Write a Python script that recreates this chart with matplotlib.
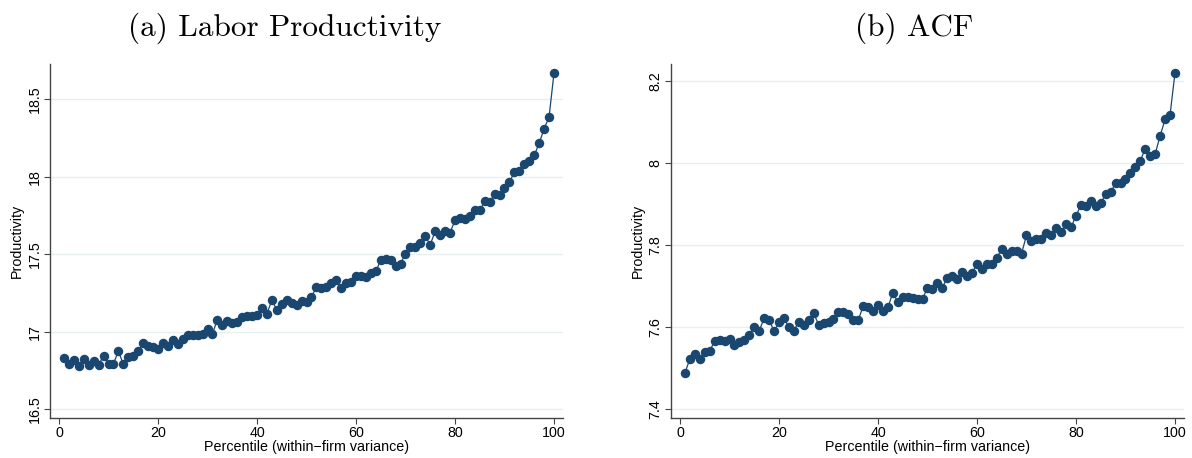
import matplotlib
matplotlib.use("Agg")
import matplotlib.pyplot as plt
import numpy as np

# percentiles of within-firm variance
pct = np.arange(1, 101)

# (a) labor productivity
labor = [16.828, 16.794, 16.815, 16.779, 16.824, 16.785, 16.810, 16.785, 16.845, 16.794,
         16.794, 16.873, 16.789, 16.838, 16.845, 16.877, 16.927, 16.910, 16.900, 16.890,
         16.927, 16.910, 16.944, 16.918, 16.955, 16.979, 16.981, 16.979, 16.985, 17.017,
         16.987, 17.077, 17.045, 17.071, 17.054, 17.060, 17.097, 17.100, 17.103, 17.105,
         17.153, 17.116, 17.202, 17.142, 17.181, 17.202, 17.185, 17.174, 17.200, 17.194,
         17.224, 17.288, 17.285, 17.287, 17.314, 17.335, 17.280, 17.316, 17.320, 17.361,
         17.357, 17.350, 17.379, 17.390, 17.460, 17.471, 17.460, 17.421, 17.440, 17.503,
         17.546, 17.544, 17.570, 17.615, 17.561, 17.650, 17.622, 17.650, 17.640, 17.718,
         17.735, 17.730, 17.748, 17.783, 17.783, 17.843, 17.835, 17.890, 17.885, 17.931,
         17.966, 18.030, 18.038, 18.080, 18.105, 18.138, 18.217, 18.310, 18.385, 18.671]

# (b) ACF productivity
acf = [7.488, 7.522, 7.534, 7.521, 7.539, 7.541, 7.566, 7.567, 7.566, 7.570,
       7.557, 7.564, 7.569, 7.580, 7.600, 7.591, 7.621, 7.617, 7.590, 7.611,
       7.622, 7.599, 7.591, 7.613, 7.605, 7.617, 7.634, 7.605, 7.609, 7.613,
       7.620, 7.636, 7.636, 7.631, 7.616, 7.616, 7.651, 7.648, 7.639, 7.654,
       7.639, 7.648, 7.683, 7.661, 7.672, 7.674, 7.670, 7.669, 7.668, 7.696,
       7.692, 7.707, 7.696, 7.720, 7.723, 7.717, 7.735, 7.725, 7.731, 7.754,
       7.742, 7.754, 7.753, 7.769, 7.790, 7.777, 7.785, 7.785, 7.779, 7.823,
       7.809, 7.814, 7.814, 7.829, 7.824, 7.842, 7.832, 7.850, 7.843, 7.871,
       7.897, 7.895, 7.908, 7.896, 7.901, 7.924, 7.928, 7.951, 7.952, 7.961,
       7.975, 7.991, 8.005, 8.035, 8.017, 8.022, 8.066, 8.106, 8.117, 8.219]

xticks = [0, 20, 40, 60, 80, 100]
yticks_a = [16.5, 17, 17.5, 18, 18.5]
yticks_b = [7.4, 7.6, 7.8, 8, 8.2]
ylabels_a = ["16.5", "17", "17.5", "18", "18.5"]
ylabels_b = ["7.4", "7.6", "7.8", "8", "8.2"]

navy = "#1a476f"
sans = "Liberation Sans"
fs = 10.3

fig = plt.figure(figsize=(11.92, 4.58), dpi=100)
W, H = 1192, 458

def make_ax(x0, y, yt, ylab, ylim):
    ax = fig.add_axes([x0 / W, 40 / H, 513 / W, 354 / H])
    ax.plot(pct, y, "-o", color=navy, lw=0.9, ms=5.8, mec=navy, zorder=3)
    ax.set_xlim(-1.82, 101.82)
    ax.set_ylim(*ylim)
    ax.set_xticks(xticks)
    ax.set_xticklabels([str(t) for t in xticks], fontsize=fs, family=sans)
    ax.set_yticks(yt)
    ax.set_yticklabels(ylab, fontsize=fs, family=sans, rotation=90, va="center")
    ax.yaxis.grid(True, color="#e8eff0", lw=1.0)
    ax.set_axisbelow(True)
    for s in ["top", "right"]:
        ax.spines[s].set_visible(False)
    for s in ["left", "bottom"]:
        ax.spines[s].set_color("#444444")
        ax.spines[s].set_linewidth(1.0)
    ax.tick_params(length=4, width=0.8, color="#444444", pad=2)
    ax.set_xlabel("Percentile (within\u2212firm variance)", fontsize=fs, family=sans, labelpad=0)
    ax.set_ylabel("Productivity", fontsize=fs, family=sans, labelpad=3)
    return ax

ax1 = make_ax(50, labor, yticks_a, ylabels_a, (16.442, 18.729))
ax2 = make_ax(671, acf, yticks_b, ylabels_b, (7.378, 8.241))

fig.text(285 / W, 1 - 28 / H, "(a) Labor Productivity", fontsize=22.5, family="cmr10",
         ha="center", va="center")
fig.text(914 / W, 1 - 28 / H, "(b) ACF", fontsize=22.5, family="cmr10",
         ha="center", va="center")

fig.savefig("out.png", dpi=100)
